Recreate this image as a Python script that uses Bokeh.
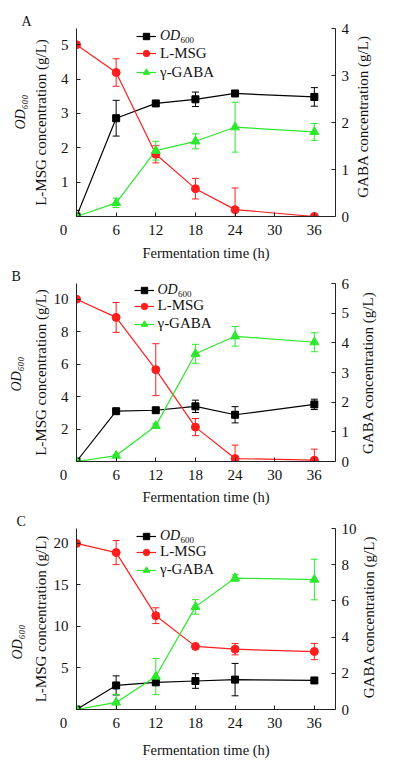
from math import pi
from bokeh.plotting import figure
from bokeh.models import (Range1d, LinearAxis, FixedTicker, Whisker, TeeHead,
                          ColumnDataSource, Legend, LegendItem, Label, Title)
from bokeh.layouts import column
from bokeh.embed import file_html
from bokeh.resources import INLINE

# ---------------- data ----------------
time_h = [0, 6, 12, 18, 24, 36]
x_ticks = [0, 6, 12, 18, 24, 30, 36]

# Panel A
od_a = [0.0, 2.86, 3.29, 3.41, 3.58, 3.48]
od_a_err = [0.18, 0.52, 0.08, 0.21, 0.03, 0.27]
msg_a = [5.0, 4.19, 1.81, 0.81, 0.20, 0.0]
msg_a_err = [0.0, 0.40, 0.25, 0.30, 0.63, 0.04]
gaba_a = [0.0, 0.29, 1.40, 1.60, 1.90, 1.80]
gaba_a_err = [0.0, 0.10, 0.20, 0.16, 0.53, 0.18]
left_ticks_a = [1, 2, 3, 4, 5]
right_ticks_a = [0, 1, 2, 3, 4]
left_max_a, right_max_a = 5.47, 4

# Panel B
od_b = [0.0, 3.10, 3.16, 3.40, 2.88, 3.52]
od_b_err = [0.0, 0.05, 0.12, 0.38, 0.50, 0.32]
msg_b = [10.0, 8.88, 5.66, 2.12, 0.18, 0.08]
msg_b_err = [0.0, 0.92, 1.60, 0.53, 0.83, 0.68]
gaba_b = [0.0, 0.20, 1.20, 3.63, 4.22, 4.02]
gaba_b_err = [0.0, 0.03, 0.07, 0.32, 0.33, 0.32]
left_ticks_b = [2, 4, 6, 8, 10]
right_ticks_b = [0, 1, 2, 3, 4, 5, 6]
left_max_b, right_max_b = 10.97, 6

# Panel C
od_c = [0.0, 2.90, 3.27, 3.43, 3.60, 3.50]
od_c_err = [0.0, 1.15, 0.30, 0.88, 1.95, 0.05]
msg_c = [20.0, 18.9, 11.3, 7.6, 7.26, 6.98]
msg_c_err = [0.0, 1.45, 0.95, 0.10, 0.68, 0.98]
gaba_c = [0.0, 0.39, 1.82, 5.67, 7.26, 7.18]
gaba_c_err = [0.0, 0.45, 1.00, 0.40, 0.18, 1.12]
left_ticks_c = [5, 10, 15, 20]
right_ticks_c = [0, 2, 4, 6, 8, 10]
left_max_c, right_max_c = 21.8, 10

x_max = 39.2
x_title = "Fermentation time (h)"
left_title = "L-MSG concentration (g/L)"
right_title = "GABA concentration (g/L)"
od_title = "OD\u2086\u2080\u2080"

# ---------------- style / layout ----------------
FONT = "Liberation Serif"
BLACK = "#000000"
RED = "#ff1e1e"
GREEN = "#2de82d"
AXIS = "#222222"
TXT = "#111111"
NBSP = "\u00a0"

layouts = {
    "A": dict(H=263, T=28, B=43, FH=192, xstand=4, lstand=9, rstand=11, rpad=5,
              od_off=87, od_so=3, let_off=-55,
              r1=12, r3=48.7, sp=2, lx=60),
    "B": dict(H=244, T=20, B=43, FH=181, xstand=3, lstand=2, rstand=16, rpad=2,
              od_off=70, od_so=12, let_off=-65,
              r1=10, r3=44, sp=1, lx=57.5),
    "C": dict(H=256, T=21, B=54, FH=181, xstand=8, lstand=2, rstand=9, rpad=3,
              od_off=50, od_so=10, let_off=-60,
              r1=8, r3=42, sp=1, lx=60),
}


def style_axis(ax, ticks, standoff, overrides=None):
    ax.ticker = FixedTicker(ticks=ticks)
    ax.major_tick_in = 4
    ax.major_tick_out = 0
    ax.minor_tick_in = 0
    ax.minor_tick_out = 0
    ax.major_label_standoff = standoff
    ax.major_label_text_font = FONT
    ax.major_label_text_font_size = "15px"
    ax.major_label_text_color = TXT
    ax.axis_line_color = AXIS
    ax.major_tick_line_color = AXIS
    ax.axis_label_text_font = FONT
    ax.axis_label_text_font_style = "normal"
    ax.axis_label_text_color = TXT
    if overrides:
        ax.major_label_overrides = overrides


def make_panel(letter, od, od_e, msg, msg_e, gaba, gaba_e, lticks, rticks, lmax, rmax):
    L = layouts[letter]
    p = figure(width=396, height=L["H"], x_range=Range1d(0, x_max), y_range=Range1d(0, lmax),
               output_backend="svg", toolbar_location=None,
               min_border_left=73, min_border_right=61,
               min_border_top=L["T"], min_border_bottom=L["B"])
    p.extra_y_ranges = {"r": Range1d(0, rmax)}
    p.outline_line_color = None
    p.xgrid.grid_line_color = None
    p.ygrid.grid_line_color = None

    # panel letter
    p.title.text = letter
    p.title.align = "left"
    p.title.offset = L["let_off"]
    p.title.standoff = 0
    p.title.text_font = FONT
    p.title.text_font_size = "14px"
    p.title.text_font_style = "normal"
    p.title.text_color = TXT

    xa = p.xaxis[0]
    style_axis(xa, x_ticks, 5, {0: "0" + NBSP * 7})
    xa.axis_label = x_title
    xa.axis_label_standoff = L["xstand"]
    xa.axis_label_text_font_size = "14.5px"

    ya = p.yaxis[0]
    style_axis(ya, lticks, 8)
    ya.axis_label = left_title
    ya.axis_label_standoff = L["lstand"]
    ya.axis_label_text_font_size = "15px"

    rax = LinearAxis(y_range_name="r")
    style_axis(rax, rticks, 6)
    rax.axis_label_standoff = L["rstand"]
    rax.axis_label_text_font_size = "15px"
    props = rax.properties()
    if "axis_label_orientation" in props and "axis_label_align" in props:
        rax.axis_label_orientation = pi / 2
        rax.axis_label_align = "start"
        rax.axis_label = NBSP * L["rpad"] + right_title
    else:
        rax.axis_label = right_title
    p.add_layout(rax, "right")

    p.add_layout(Title(text=od_title, align="left", offset=L["od_off"], standoff=L["od_so"],
                       text_font=FONT, text_font_size="14px", text_font_style="italic",
                       text_color=TXT), "left")

    src = ColumnDataSource(dict(
        t=time_h, od=od, msg=msg, gaba=gaba,
        od_lo=[v - e for v, e in zip(od, od_e)], od_hi=[v + e for v, e in zip(od, od_e)],
        msg_lo=[v - e for v, e in zip(msg, msg_e)], msg_hi=[v + e for v, e in zip(msg, msg_e)],
        g_lo=[v - e for v, e in zip(gaba, gaba_e)], g_hi=[v + e for v, e in zip(gaba, gaba_e)],
    ))

    l_od = p.line("t", "od", source=src, line_color=BLACK, line_width=1.2)
    l_msg = p.line("t", "msg", source=src, line_color=RED, line_width=1.2)
    l_g = p.line("t", "gaba", source=src, line_color=GREEN, line_width=1.2, y_range_name="r")

    for lo, hi, col, rn in (("od_lo", "od_hi", BLACK, "default"),
                            ("msg_lo", "msg_hi", RED, "default"),
                            ("g_lo", "g_hi", GREEN, "r")):
        w = Whisker(base="t", lower=lo, upper=hi, source=src, y_range_name=rn,
                    line_color=col, line_width=1,
                    upper_head=TeeHead(size=7, line_color=col, line_width=1),
                    lower_head=TeeHead(size=7, line_color=col, line_width=1))
        p.add_layout(w)

    s_od = p.scatter("t", "od", source=src, marker="square", size=7, color=BLACK)
    s_msg = p.scatter("t", "msg", source=src, marker="circle", size=8, color=RED)
    s_g = p.scatter("t", "gaba", source=src, marker="triangle", size=9, color=GREEN,
                    y_range_name="r")

    leg1 = Legend(items=[LegendItem(label="OD", renderers=[l_od, s_od])],
                  location=(L["lx"], L["FH"] - L["r1"] - 8))
    leg2 = Legend(items=[LegendItem(label="L-MSG", renderers=[l_msg, s_msg]),
                         LegendItem(label="γ-GABA", renderers=[l_g, s_g])],
                  location=(L["lx"], L["FH"] - L["r3"] - 8), spacing=L["sp"])
    for lg in (leg1, leg2):
        lg.border_line_color = None
        lg.background_fill_alpha = 0
        lg.padding = 0
        lg.margin = 0
        lg.glyph_width = 20
        lg.glyph_height = 16
        lg.label_height = 16
        lg.label_standoff = 4
        lg.label_text_font = FONT
        lg.label_text_font_size = "15px"
        lg.label_text_color = TXT
        p.add_layout(lg)
    leg1.label_text_font_style = "italic"
    leg1.label_text_font_size = "14px"
    p.add_layout(Label(x=L["lx"] + 44, y=L["FH"] - L["r1"] - 3.5, x_units="screen",
                       y_units="screen", text="600", text_font=FONT, text_font_size="9px",
                       text_align="left", text_baseline="middle", text_color=TXT))
    return p


pA = make_panel("A", od_a, od_a_err, msg_a, msg_a_err, gaba_a, gaba_a_err,
                left_ticks_a, right_ticks_a, left_max_a, right_max_a)
pB = make_panel("B", od_b, od_b_err, msg_b, msg_b_err, gaba_b, gaba_b_err,
                left_ticks_b, right_ticks_b, left_max_b, right_max_b)
pC = make_panel("C", od_c, od_c_err, msg_c, msg_c_err, gaba_c, gaba_c_err,
                left_ticks_c, right_ticks_c, left_max_c, right_max_c)

layout = column(pA, pB, pC, spacing=0)
open("out.html", "w").write(file_html(layout, INLINE))
